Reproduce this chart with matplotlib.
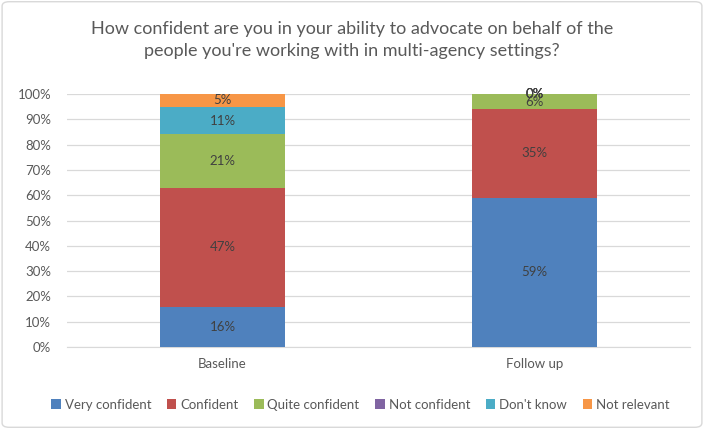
import matplotlib
matplotlib.use("Agg")
import matplotlib.pyplot as plt
from matplotlib.patches import FancyBboxPatch
import numpy as np

plt.rcParams['font.family'] = ['Lato', 'DejaVu Sans']

categories = ["Baseline", "Follow up"]
series_names = ["Very confident", "Confident", "Quite confident", "Not confident", "Don't know", "Not relevant"]
very_confident = [16, 59]
confident = [47, 35]
quite_confident = [21, 6]
not_confident = [None, 0]
dont_know = [11, 0]
not_relevant = [5, 0]
series = [very_confident, confident, quite_confident, not_confident, dont_know, not_relevant]
colors = ["#4F81BD", "#C0504D", "#9BBB59", "#8064A2", "#4BACC6", "#F79646"]
yticks = [0, 10, 20, 30, 40, 50, 60, 70, 80, 90, 100]

fig = plt.figure(figsize=(7.04, 4.29), dpi=100)
border = FancyBboxPatch((0.003, 0.004), 0.994, 0.992, boxstyle="round,pad=0,rounding_size=0.01",
                        transform=fig.transFigure, fc="white", ec="#D9D9D9", lw=1, zorder=-10)
fig.patches.append(border)
ax = fig.add_axes([0.0945, 0.191, 0.886, 0.590])
ax.set_facecolor("none")

x = np.arange(len(categories))
bottoms = np.zeros(len(categories))
for name, vals, c in zip(series_names, series, colors):
    v = np.array([0 if a is None else a for a in vals], dtype=float)
    ax.bar(x, v, 0.4, bottom=bottoms, color=c, label=name, zorder=3)
    for i, a in enumerate(vals):
        if a is None:
            continue
        ax.text(x[i], bottoms[i] + v[i] / 2, f"{a}%", ha="center", va="center",
                fontsize=9.5, color="#404040", zorder=4)
    bottoms += v

ax.set_xlim(-0.5, 1.5)
ax.set_ylim(0, 100)
ax.set_yticks(yticks)
ax.set_yticklabels([f"{t}%" for t in yticks])
ax.set_xticks(x)
ax.set_xticklabels(categories)
ax.yaxis.grid(True, color="#D9D9D9", lw=0.9, zorder=0)
ax.tick_params(axis="both", length=0, labelsize=9.5, labelcolor="#595959")
ax.tick_params(axis="y", pad=11)
ax.tick_params(axis="x", pad=8)
for s in ["top", "right", "left"]:
    ax.spines[s].set_visible(False)
ax.spines["bottom"].set_color("#D9D9D9")

fig.suptitle("How confident are you in your ability to advocate on behalf of the\npeople you're working with in multi-agency settings?",
             y=0.95, fontsize=13, color="#595959", linespacing=1.45)

fig.legend(loc="center", bbox_to_anchor=(0.512, 0.057), ncol=6, frameon=False, fontsize=9.5,
           handlelength=0.7, handleheight=0.7, handletextpad=0.3, columnspacing=1.2,
           labelcolor="#595959")

fig.savefig("out.png", dpi=100)
